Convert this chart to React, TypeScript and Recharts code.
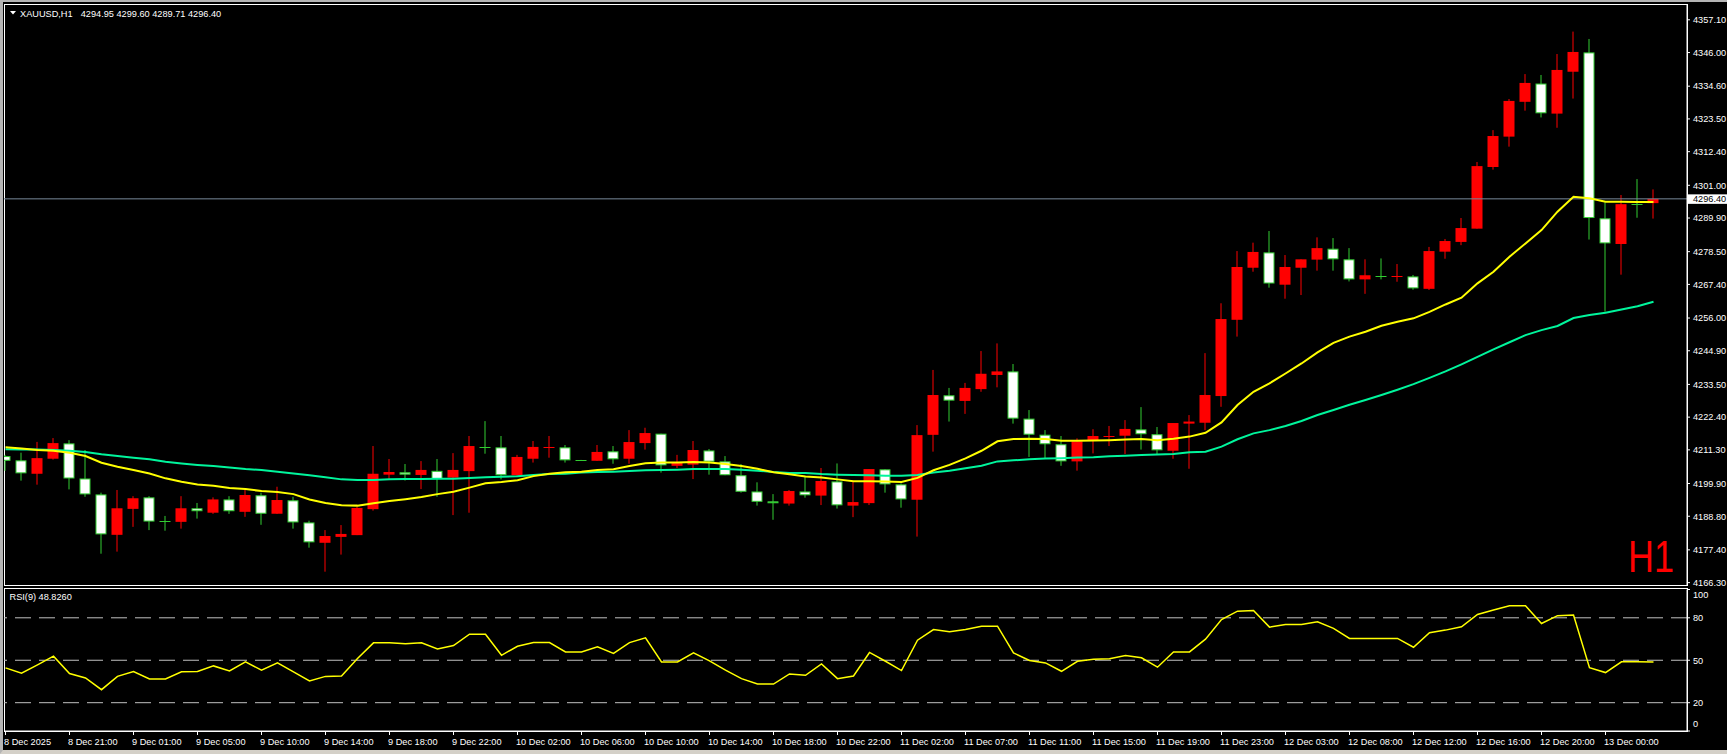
import React from 'react';
import { ComposedChart, Bar, Line, XAxis, YAxis, ReferenceLine } from 'recharts';

// ---------- data ----------
const opens = [
  4209.2, 4207.75, 4203.2, 4208.3, 4213.5, 4201.6, 4196.2, 4182.5, 4191.3, 4195.2,
  4187.15, 4186.9, 4191.5, 4190.0, 4194.5, 4190.3, 4195.9, 4189.65, 4194.2, 4186.7,
  4179.8, 4181.8, 4182.4, 4191.2, 4202.9, 4203.7, 4202.8, 4204.2, 4201.9, 4204.1,
  4212.5, 4212.15, 4202.7, 4208.3, 4212.1, 4212.15, 4207.8, 4207.6, 4210.8, 4208.3,
  4213.6, 4216.8, 4205.9, 4206.3, 4211.1, 4207.4, 4202.7, 4197.2, 4193.85, 4193.1,
  4197.2, 4195.8, 4200.6, 4192.4, 4193.25, 4204.7, 4199.6, 4194.4, 4216.4, 4229.8,
  4227.9, 4231.9, 4236.7, 4237.9, 4221.9, 4216.45, 4213.2, 4207.4, 4214.6, 4215.8,
  4216.1, 4218.25, 4216.6, 4211.0, 4220.2, 4220.5, 4229.55, 4255.4, 4273.05, 4278.25,
  4267.3, 4273.05, 4275.8, 4279.5, 4275.9, 4269.1, 4270.3, 4270.0, 4270.1, 4265.9,
  4278.5, 4281.8, 4286.3, 4307.2, 4317.5, 4329.3, 4335.5, 4325.3, 4339.5, 4346.05,
  4289.8, 4281.1, 4294.7, 4294.95,
];
const highs = [
  4209.6, 4210.35, 4214.0, 4215.3, 4214.6, 4211.25, 4196.8, 4197.7, 4195.6, 4195.6,
  4188.9, 4195.6, 4193.3, 4195.2, 4195.6, 4197.7, 4196.8, 4198.8, 4195.4, 4187.3,
  4184.1, 4185.8, 4192.0, 4212.6, 4208.2, 4206.5, 4207.5, 4208.2, 4210.2, 4216.0,
  4221.05, 4216.0, 4209.6, 4214.3, 4216.0, 4212.95, 4207.9, 4212.95, 4212.6, 4218.0,
  4218.8, 4216.8, 4209.6, 4214.3, 4211.6, 4209.2, 4206.5, 4200.3, 4196.3, 4197.7,
  4202.2, 4205.15, 4206.7, 4200.6, 4204.8, 4204.7, 4199.95, 4219.7, 4238.4, 4232.3,
  4234.0, 4244.8, 4247.4, 4240.4, 4224.8, 4218.0, 4216.0, 4215.2, 4218.3, 4219.4,
  4221.4, 4225.8, 4219.05, 4220.4, 4223.1, 4244.1, 4261.0, 4278.7, 4281.55, 4285.5,
  4277.35, 4275.9, 4283.35, 4283.1, 4279.7, 4275.9, 4276.2, 4274.3, 4270.6, 4280.1,
  4282.8, 4289.9, 4308.9, 4319.7, 4330.25, 4338.7, 4338.4, 4345.5, 4353.1, 4350.6,
  4295.2, 4297.7, 4303.1, 4299.6,
];
const lows = [
  4204.2, 4200.86, 4199.5, 4208.0, 4197.9, 4195.4, 4176.1, 4176.8, 4185.2, 4184.1,
  4183.9, 4184.6, 4188.0, 4189.6, 4189.6, 4188.6, 4185.9, 4189.6, 4184.6, 4178.15,
  4170.0, 4175.8, 4182.4, 4190.7, 4201.1, 4200.9, 4198.0, 4195.4, 4189.2, 4190.0,
  4210.0, 4201.3, 4202.5, 4207.0, 4208.65, 4207.0, 4207.6, 4207.6, 4206.6, 4206.6,
  4211.4, 4203.6, 4205.15, 4201.4, 4202.9, 4202.7, 4196.8, 4192.4, 4187.6, 4192.4,
  4195.1, 4192.6, 4191.4, 4188.5, 4192.6, 4196.8, 4191.7, 4181.9, 4210.7, 4220.9,
  4223.5, 4231.0, 4232.5, 4220.2, 4208.9, 4208.4, 4205.9, 4204.25, 4210.1, 4212.6,
  4209.9, 4211.4, 4209.9, 4208.3, 4204.9, 4218.0, 4225.9, 4249.7, 4271.7, 4266.3,
  4262.55, 4263.8, 4272.05, 4272.05, 4268.4, 4264.2, 4269.1, 4268.3, 4265.6, 4265.5,
  4276.1, 4280.7, 4286.3, 4306.3, 4314.1, 4326.3, 4324.0, 4320.5, 4330.4, 4282.6,
  4258.1, 4270.7, 4290.0, 4289.71,
];
const closes = [
  4207.6, 4203.34, 4208.5, 4213.6, 4201.6, 4196.2, 4182.65, 4191.5, 4194.9, 4187.0,
  4187.15, 4191.5, 4190.5, 4194.5, 4190.5, 4196.0, 4189.65, 4194.3, 4186.7, 4179.95,
  4182.1, 4182.8, 4191.6, 4203.2, 4203.8, 4202.9, 4204.5, 4201.4, 4204.5, 4212.6,
  4212.3, 4202.7, 4208.9, 4212.3, 4212.3, 4207.75, 4207.7, 4210.6, 4208.1, 4213.95,
  4217.0, 4206.05, 4206.9, 4211.25, 4207.3, 4202.7, 4197.1, 4193.7, 4193.2, 4197.35,
  4195.9, 4200.75, 4192.5, 4193.6, 4204.8, 4199.6, 4194.5, 4216.3, 4229.9, 4228.0,
  4232.3, 4237.1, 4237.9, 4221.9, 4216.45, 4213.2, 4207.4, 4214.2, 4216.0, 4216.3,
  4218.4, 4216.6, 4211.15, 4220.4, 4220.9, 4229.9, 4255.65, 4273.3, 4278.4, 4267.7,
  4273.3, 4275.9, 4279.7, 4275.9, 4269.1, 4270.5, 4270.2, 4270.2, 4266.05, 4278.7,
  4282.1, 4286.5, 4307.5, 4317.7, 4329.6, 4335.7, 4325.4, 4340.1, 4346.2, 4289.9,
  4281.3, 4294.6, 4294.5, 4296.4,
];
const maFast = [
  4212.2, 4211.8, 4211.25, 4211.0, 4210.3, 4209.2, 4206.95, 4205.6, 4204.5, 4203.3,
  4201.65, 4200.5, 4199.6, 4199.15, 4198.4, 4198.0, 4197.35, 4197.0, 4196.3, 4194.5,
  4193.3, 4192.5, 4192.4, 4193.2, 4194.0, 4194.6, 4195.3, 4196.3, 4197.1, 4198.5,
  4199.95, 4200.4, 4201.0, 4202.4, 4203.2, 4203.7, 4203.9, 4204.5, 4204.7, 4205.8,
  4206.8, 4207.0, 4207.0, 4207.2, 4207.0, 4206.5, 4205.8, 4204.9, 4203.7, 4203.0,
  4202.3, 4201.9, 4201.3, 4200.7, 4200.7, 4200.6, 4200.4, 4201.8, 4204.4, 4206.2,
  4208.4, 4211.0, 4214.2, 4215.0, 4215.1, 4215.0, 4214.4, 4214.4, 4214.5, 4214.6,
  4214.8, 4215.0, 4214.6, 4215.1, 4215.8, 4217.1, 4220.6, 4226.5, 4231.0, 4233.85,
  4237.2, 4240.6, 4244.35, 4247.6, 4249.7, 4251.35, 4253.4, 4254.75, 4255.9, 4258.1,
  4260.6, 4262.9, 4267.75, 4271.7, 4276.8, 4281.3, 4285.8, 4292.05, 4297.1, 4296.6,
  4295.4, 4295.4, 4295.3, 4295.3,
];
const maSlow = [
  4211.5, 4211.4, 4211.4, 4211.25, 4211.0, 4210.6, 4209.8, 4209.2, 4208.65, 4208.1,
  4207.3, 4206.7, 4206.2, 4205.8, 4205.3, 4204.8, 4204.5, 4203.9, 4203.3, 4202.7,
  4202.0, 4201.3, 4201.1, 4201.1, 4201.3, 4201.4, 4201.4, 4201.5, 4201.5, 4201.75,
  4202.0, 4202.2, 4202.4, 4202.8, 4203.1, 4203.2, 4203.6, 4203.8, 4203.9, 4204.1,
  4204.4, 4204.5, 4204.6, 4204.8, 4204.8, 4204.8, 4204.6, 4204.25, 4203.8, 4203.5,
  4203.5, 4203.1, 4202.9, 4202.8, 4202.7, 4202.55, 4202.55, 4202.8, 4203.6, 4204.25,
  4205.1, 4205.95, 4207.4, 4207.75, 4208.1, 4208.4, 4208.5, 4208.7, 4208.8, 4209.1,
  4209.3, 4209.6, 4209.7, 4209.9, 4210.5, 4210.7, 4212.4, 4214.9, 4216.9, 4218.0,
  4219.4, 4221.1, 4223.1, 4224.8, 4226.6, 4228.2, 4229.9, 4231.7, 4233.6, 4235.7,
  4237.9, 4240.3, 4242.8, 4245.4, 4247.8, 4250.2, 4251.9, 4253.3, 4256.0, 4257.0,
  4257.8, 4258.9, 4260.0, 4261.5,
];
const rsiValues = [
  44.6, 40.8, 46.7, 52.9, 40.6, 37.5, 29.2, 38.6, 42.0, 36.8,
  36.8, 41.8, 42.0, 46.0, 42.5, 48.9, 43.0, 48.1, 41.8, 35.4,
  38.6, 38.9, 51.2, 62.3, 62.3, 61.6, 62.3, 58.0, 60.4, 68.4,
  68.4, 53.5, 59.9, 62.5, 62.5, 55.9, 55.9, 59.5, 54.8, 62.5,
  65.8, 48.8, 48.8, 55.2, 49.6, 43.0, 37.0, 33.2, 33.2, 40.3,
  39.4, 47.4, 37.0, 38.9, 55.5, 49.3, 42.7, 64.2, 71.7, 70.1,
  71.7, 74.1, 74.1, 55.2, 49.8, 48.1, 42.2, 49.3, 50.7, 51.0,
  53.3, 51.7, 45.1, 55.9, 55.9, 64.9, 78.8, 84.7, 85.2, 73.4,
  75.3, 75.3, 77.2, 72.5, 65.4, 65.4, 65.4, 65.4, 59.2, 69.4,
  71.3, 73.6, 82.4, 85.5, 88.5, 88.5, 76.0, 81.5, 81.9, 44.8,
  41.3, 48.9, 48.9, 48.83,
];
const timeLabels = [
  '8 Dec 2025', '8 Dec 21:00', '9 Dec 01:00', '9 Dec 05:00', '9 Dec 10:00', '9 Dec 14:00',
  '9 Dec 18:00', '9 Dec 22:00', '10 Dec 02:00', '10 Dec 06:00', '10 Dec 10:00', '10 Dec 14:00',
  '10 Dec 18:00', '10 Dec 22:00', '11 Dec 02:00', '11 Dec 07:00', '11 Dec 11:00', '11 Dec 15:00',
  '11 Dec 19:00', '11 Dec 23:00', '12 Dec 03:00', '12 Dec 08:00', '12 Dec 12:00', '12 Dec 16:00',
  '12 Dec 20:00', '13 Dec 00:00',
];
const labelStep = 4;
const priceTicks = [
  4357.1, 4346.0, 4334.6, 4323.5, 4312.4, 4301.0, 4289.9, 4278.5, 4267.4, 4256.0,
  4244.9, 4233.5, 4222.4, 4211.3, 4199.9, 4188.8, 4177.4, 4166.3,
];
const rsiTicks = [0, 20, 50, 80, 100];
const rsiLevels = [20, 50, 80];
const lastPrice = 4296.4;
const symbolTitle = 'XAUUSD,H1';
const ohlcTitle = '4294.95 4299.60 4289.71 4296.40';
const rsiTitle = 'RSI(9) 48.8260';
const periodMark = 'H1';

// ---------- layout / style ----------
const W = 1727;
const FONT = '"Liberation Sans", Arial, sans-serif';
const FS = 9.2;
const X_DOMAIN: [number, number] = [-0.09375, 105.09375];
const PRICE_DOMAIN: [number, number] = [4165.49, 4362.46];
const BULL = '#ff0000';
const BEAR = '#32cd32';
const FAST = '#ffff00';
const SLOW = '#00f59c';

const data = opens.map((o, i) => ({
  i, o, h: highs[i], l: lows[i], c: closes[i],
  fast: maFast[i], slow: maSlow[i], rsi: rsiValues[i],
}));

const Candle = (props: any) => {
  const { x, y, width, height, payload } = props;
  if (x == null || y == null || !payload) return null;
  const { o, h, l, c } = payload;
  const cx = x + width / 2;
  const ratio = h !== l ? height / (h - l) : 0;
  const yOf = (v: number) => y + (h - v) * ratio;
  const bull = c > o;
  const color = bull ? BULL : BEAR;
  const top = yOf(Math.max(o, c));
  const bot = yOf(Math.min(o, c));
  const body = bot - top;
  let bodyEl: any;
  if (body < 1.5) {
    const yy = Math.round((top + bot) / 2) + 0.5;
    bodyEl = <line x1={cx - 5.5} x2={cx + 5.5} y1={yy} y2={yy} stroke={color} strokeWidth={1} />;
  } else if (bull) {
    bodyEl = <rect x={cx - 5.5} y={top} width={11} height={body} fill={BULL} />;
  } else {
    bodyEl = (
      <rect x={cx - 5} y={top + 0.5} width={10} height={Math.max(body - 1, 0.5)}
        fill="#ffffff" stroke={BEAR} strokeWidth={1} />
    );
  }
  return (
    <g>
      <line x1={cx} x2={cx} y1={y} y2={y + height} stroke={color} strokeWidth={1} />
      {bodyEl}
    </g>
  );
};

const PriceTag = (props: any) => {
  const vb = props.viewBox || {};
  const xr = (vb.x || 0) + (vb.width || 0);
  const yy = vb.y || 0;
  return (
    <g>
      <rect x={xr + 1} y={yy - 4.5} width={W - xr - 1} height={9.5} fill="#ffffff" />
      <text x={xr + 6} y={yy} dy="0.355em" fill="#000000" fontSize={FS} fontFamily={FONT}>
        {lastPrice.toFixed(2)}
      </text>
    </g>
  );
};

const RsiTick = (props: any) => {
  const { x, y, payload } = props;
  let yy = y;
  if (payload.value === 100) yy += 5.5;
  if (payload.value === 0) yy -= 7;
  return (
    <text x={x} y={yy} dy="0.355em" fill="#ffffff" fontSize={FS} fontFamily={FONT} textAnchor="start">
      {payload.value}
    </text>
  );
};

const TimeTick = (props: any) => {
  const { x, y, payload } = props;
  const label = timeLabels[Math.round(payload.value / labelStep)];
  return (
    <text x={x - 1.5} y={y} dy={9.5} fill="#ffffff" fontSize={FS} fontFamily={FONT} textAnchor="start">
      {label}
    </text>
  );
};

export default function App() {
  const timeTicks = timeLabels.map((_, k) => k * labelStep);
  return (
    <div style={{ position: 'fixed', left: 0, top: 0, width: W, height: 754, background: '#000', overflow: 'hidden' }}>
      {/* outer window frame */}
      <div style={{ position: 'absolute', left: 0, top: 0, width: W, height: 754, boxSizing: 'border-box',
        borderTop: '2px solid #b4b4b4', borderLeft: '3px solid #b4b4b4', borderBottom: '4px solid #d4d0c8' }} />
      {/* panel frames */}
      <div style={{ position: 'absolute', left: 4, top: 4, width: 1684, height: 582, boxSizing: 'border-box', border: '1px solid #ffffff' }} />
      <div style={{ position: 'absolute', left: 4, top: 588, width: 1684, height: 144, boxSizing: 'border-box', border: '1px solid #ffffff' }} />

      <div style={{ position: 'absolute', left: 0, top: 0 }}>
        <ComposedChart width={W} height={588} data={data} margin={{ top: 4, right: 0, bottom: 3, left: 4 }}>
          <XAxis type="number" dataKey="i" domain={X_DOMAIN} hide allowDataOverflow />
          <YAxis orientation="right" width={40} domain={PRICE_DOMAIN} ticks={priceTicks} interval={0}
            allowDataOverflow tickFormatter={(v: number) => v.toFixed(2)}
            axisLine={{ stroke: '#ffffff' }} tickLine={{ stroke: '#ffffff' }} tickSize={3} tickMargin={3}
            tick={{ fill: '#ffffff', fontSize: FS, fontFamily: FONT, textAnchor: 'start' }} />
          <ReferenceLine y={lastPrice} stroke="#778899" strokeWidth={1} label={<PriceTag />} />
          <Bar dataKey={(d: any) => [d.l, d.h]} barSize={11} shape={<Candle />} isAnimationActive={false} />
          <Line type="linear" dataKey="slow" stroke={SLOW} strokeWidth={2} dot={false} isAnimationActive={false} />
          <Line type="linear" dataKey="fast" stroke={FAST} strokeWidth={2} dot={false} isAnimationActive={false} />
        </ComposedChart>
      </div>

      <div style={{ position: 'absolute', left: 0, top: 588 }}>
        <ComposedChart width={W} height={166} data={data} margin={{ top: 1.5, right: 0, bottom: 0, left: 4 }}>
          <XAxis type="number" dataKey="i" domain={X_DOMAIN} allowDataOverflow ticks={timeTicks} interval={0}
            height={23} axisLine={{ stroke: '#ffffff' }} tickLine={{ stroke: '#ffffff' }} tickSize={4} tickMargin={0}
            tick={<TimeTick />} />
          <YAxis orientation="right" width={40} domain={[0, 100]} ticks={rsiTicks} interval={0}
            axisLine={{ stroke: '#ffffff' }} tickLine={{ stroke: '#ffffff' }} tickSize={3} tickMargin={3}
            tick={<RsiTick />} />
          {rsiLevels.map((lv) => (
            <ReferenceLine key={lv} y={lv} stroke="#c0c0c0" strokeWidth={1} strokeDasharray="16 8" />
          ))}
          <Line type="linear" dataKey="rsi" stroke={FAST} strokeWidth={1.5} dot={false} isAnimationActive={false} />
        </ComposedChart>
      </div>

      <svg width={W} height={754} style={{ position: 'absolute', left: 0, top: 0, pointerEvents: 'none' }}>
        <polygon points="10,11 16,11 13,14.5" fill="#ffffff" />
        <text x={20} y={16.5} fill="#ffffff" fontSize={FS} fontFamily={FONT}>{symbolTitle}</text>
        <text x={80.7} y={16.5} fill="#ffffff" fontSize={FS} fontFamily={FONT}>{ohlcTitle}</text>
        <text x={9.5} y={600} fill="#ffffff" fontSize={FS} fontFamily={FONT}>{rsiTitle}</text>
        <text x={1628} y={572} fill="#ff0000" fontSize={44} fontFamily={FONT} textLength={46} lengthAdjust="spacingAndGlyphs">{periodMark}</text>
      </svg>
    </div>
  );
}
